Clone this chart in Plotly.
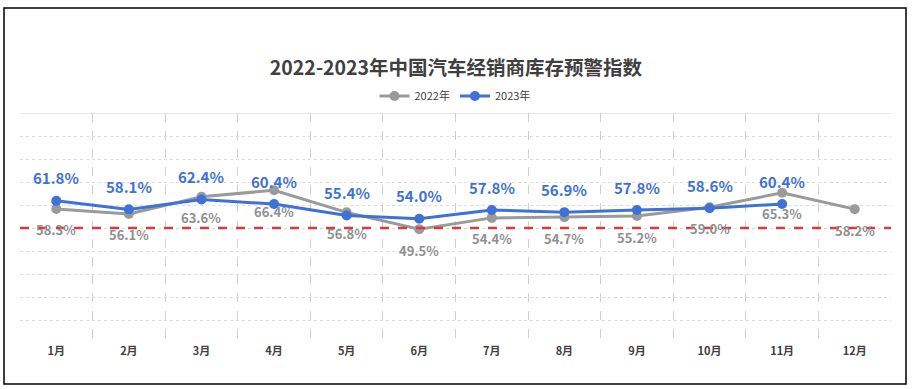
import plotly.graph_objects as go

months = ["1月", "2月", "3月", "4月", "5月", "6月", "7月", "8月", "9月", "10月", "11月", "12月"]
values_2022 = [58.3, 56.1, 63.6, 66.4, 56.8, 49.5, 54.4, 54.7, 55.2, 59.0, 65.3, 58.2]
values_2023 = [61.8, 58.1, 62.4, 60.4, 55.4, 54.0, 57.8, 56.9, 57.8, 58.6, 60.4]
warning_line = 50
title_text = "2022-2023年中国汽车经销商库存预警指数"

GREY = "#9a9a9a"
GREY_TXT = "#8f8f8f"
BLUE = "#3f72d6"
FONT = "Noto Sans CJK SC"

W, H = 912, 389
L, R, T, B = 20, 21, 113, 46
PW, PH = W - L - R, H - T - B

fig = go.Figure()
fig.add_trace(go.Scatter(
    x=months, y=values_2022, name="2022年", mode="lines+markers",
    line=dict(color=GREY, width=3), marker=dict(size=10, color=GREY),
))
fig.add_trace(go.Scatter(
    x=months[:len(values_2023)], y=values_2023, name="2023年", mode="lines+markers",
    line=dict(color=BLUE, width=3), marker=dict(size=10, color=BLUE),
))

annotations = []
for m, v in zip(months, values_2022):
    annotations.append(dict(x=m, y=v, text=f"{v:.1f}%", showarrow=False, yshift=-21,
                            font=dict(family=FONT, size=13, color=GREY_TXT, weight="bold")))
for m, v in zip(months, values_2023):
    annotations.append(dict(x=m, y=v, text=f"{v:.1f}%", showarrow=False, yshift=23,
                            font=dict(family=FONT, size=15, color=BLUE, weight="bold")))

fig.update_layout(
    width=W, height=H,
    margin=dict(l=L, r=R, t=T, b=B),
    paper_bgcolor="white", plot_bgcolor="white",
    font=dict(family=FONT, color="#404040"),
    title=dict(text=title_text, x=0.5, xanchor="center", y=1 - 68 / H, yanchor="middle",
               font=dict(family=FONT, size=19.5, color="#404040", weight="bold")),
    legend=dict(orientation="h", x=(455 - L) / PW, xanchor="center",
                y=(H - B - 96) / PH, yref="paper", yanchor="middle",
                font=dict(size=11, color="#404040"),
                itemwidth=30, tracegroupgap=0, bgcolor="rgba(0,0,0,0)"),
    showlegend=True,
    annotations=annotations,
    shapes=[
        dict(type="line", xref="paper", x0=0, x1=1, yref="y", y0=100, y1=100,
             line=dict(color="#e2e2e2", width=1.5), layer="below"),
        dict(type="line", xref="paper", x0=0, x1=1, yref="y", y0=warning_line, y1=warning_line,
             line=dict(color="#d93a3a", width=2.5, dash="dash"), layer="above"),
        dict(type="rect", xref="paper", yref="paper",
             x0=(4 - L) / PW, x1=(906 - L) / PW,
             y0=(H - B - 384) / PH, y1=(H - B - 8) / PH,
             line=dict(color="black", width=1.5), fillcolor="rgba(0,0,0,0)"),
    ],
)
fig.update_xaxes(
    type="category", tickson="boundaries", showgrid=True, gridcolor="#cfcfcf",
    griddash="dash", gridwidth=1, ticks="", showline=False, zeroline=False,
    tickfont=dict(family=FONT, size=11, color="#404040", weight="bold"),
    range=[-0.5, 11.5],
)
fig.update_yaxes(
    range=[0, 100], dtick=10, showgrid=True, gridcolor="#dcdcdc", griddash="dot",
    gridwidth=1, showticklabels=False, zeroline=False, showline=False,
)
fig.write_html("out.html", config={"displayModeBar": False},
               post_script="document.body.style.margin='0';")
